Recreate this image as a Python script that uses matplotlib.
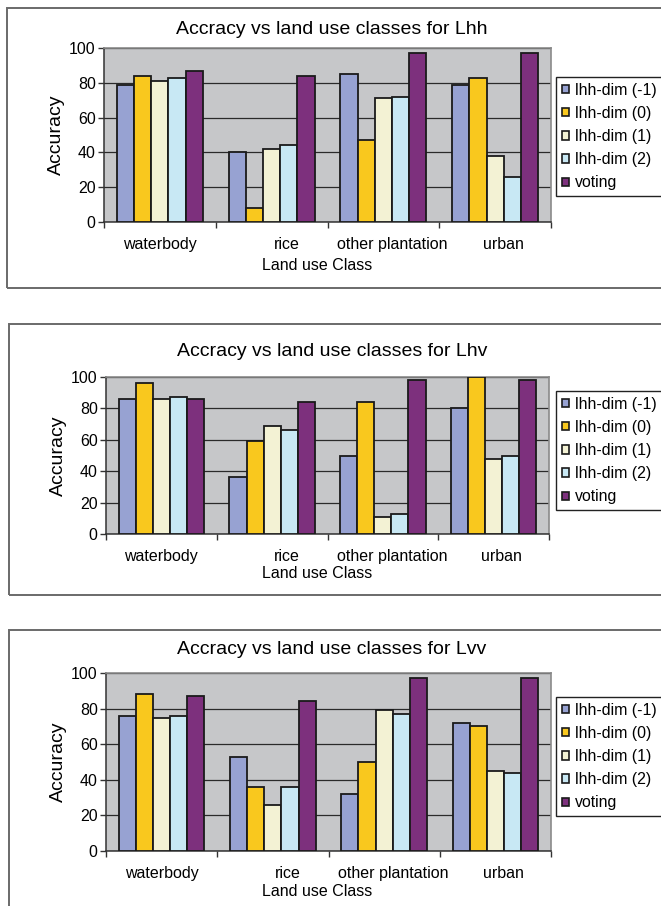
import numpy as np
import matplotlib
matplotlib.use("Agg")
import matplotlib.pyplot as plt
from matplotlib.patches import Rectangle
from matplotlib.transforms import ScaledTranslation

plt.rcParams['font.family'] = ['Liberation Sans', 'DejaVu Sans']

classes = ['waterbody', 'rice', 'other plantation', 'urban']
series = ['lhh-dim (-1)', 'lhh-dim (0)', 'lhh-dim (1)', 'lhh-dim (2)', 'voting']
colors = ['#97A2D2', '#F9C81E', '#F3F2D4', '#C8E8F4', '#7D307D']

# accuracy per class, one row per series
lhh = [[79, 40, 85, 79],
       [84, 8, 47, 83],
       [81, 42, 71, 38],
       [83, 44, 72, 26],
       [87, 84, 97, 97]]
lhv = [[86, 36, 50, 80],
       [96, 59, 84, 100],
       [86, 69, 11, 48],
       [87, 66, 13, 50],
       [86, 84, 98, 98]]
lvv = [[76, 53, 32, 72],
       [88, 36, 50, 70],
       [75, 26, 79, 45],
       [76, 36, 77, 44],
       [87, 84, 97, 97]]

titles = ['Accracy vs land use classes for Lhh',
          'Accracy vs land use classes for Lhv',
          'Accracy vs land use classes for Lvv']

W, H = 661, 906
fig = plt.figure(figsize=(W / 100, H / 100), dpi=100)


def fx(px):
    return px / W


def fy(py):
    return 1 - py / H


# pixel layout of each panel: frame box, plot area, text rows
panels = [
    dict(box=(7, 8, 700, 288), ax=(104, 48, 551, 222), title_y=30,
         xlab_y=265, leg_y=77, data=lhh),
    dict(box=(9, 324, 700, 595), ax=(106, 377, 549, 534), title_y=352,
         xlab_y=574, leg_y=391, data=lhv),
    dict(box=(9, 630, 700, 960), ax=(106, 673, 551, 851), title_y=650,
         xlab_y=891, leg_y=697, data=lvv),
]

label_shift = [0, 15, 9, 8]  # px, horizontal nudge of category labels
bw = 0.154
x = np.arange(len(classes))

for n, p in enumerate(panels):
    bx0, by0, bx1, by1 = p['box']
    fig.patches.append(Rectangle((fx(bx0), fy(by1)), fx(bx1 - bx0), (by1 - by0) / H,
                                 transform=fig.transFigure, fill=False,
                                 edgecolor='#6a6a6a', linewidth=1.4))
    l, t, r, b = p['ax']
    ax = fig.add_axes([fx(l), fy(b), fx(r - l), (b - t) / H])
    ax.set_facecolor('#C6C7C9')

    for i, vals in enumerate(p['data']):
        ax.bar(x + (i - 2) * bw, vals, width=bw, color=colors[i],
               edgecolor='#1a1a1a', linewidth=1.3, label=series[i], zorder=3)

    ax.set_xlim(-0.5, 3.5)
    ax.set_ylim(0, 100)
    ax.set_yticks(np.arange(0, 101, 20))
    ax.yaxis.grid(True, color='#2a2a2a', linewidth=0.9, zorder=1)
    ax.set_axisbelow(True)
    ax.tick_params(axis='y', direction='out', length=4, width=1, pad=2,
                   labelsize=11.5, color='#333333')

    ax.set_xticks(x)
    ax.set_xticklabels(classes)
    ax.set_xticks(np.arange(-0.5, 4.0, 1.0), minor=True)
    ax.tick_params(axis='x', which='major', length=0, pad=11, labelsize=11.5)
    ax.tick_params(axis='x', which='minor', direction='out', length=4,
                   width=1, color='#333333')
    for lab, dx in zip(ax.get_xticklabels(), label_shift):
        lab.set_transform(lab.get_transform() +
                          ScaledTranslation(dx / 100, 0, fig.dpi_scale_trans))

    for side in ['top', 'right']:
        ax.spines[side].set_color('#8a8a8a')
        ax.spines[side].set_linewidth(1.2)
    for side in ['left', 'bottom']:
        ax.spines[side].set_color('#333333')
        ax.spines[side].set_linewidth(1.1)

    fig.text(fx(332), fy(p['title_y']), titles[n],
             ha='center', va='center', fontsize=14)
    fig.text(fx(317), fy(p['xlab_y']), 'Land use Class',
             ha='center', va='center', fontsize=11.5)
    fig.text(fx(l - 48), fy((t + b) / 2), 'Accuracy', rotation=90,
             ha='center', va='center', fontsize=14)

    leg = ax.legend(loc='upper left',
                    bbox_to_anchor=(fx(556), fy(p['leg_y'])),
                    bbox_transform=fig.transFigure,
                    fontsize=11.4, frameon=True, fancybox=False,
                    edgecolor='#222222', framealpha=1, borderpad=0.35,
                    labelspacing=0.52, handlelength=0.45, handleheight=0.45,
                    handletextpad=0.4, borderaxespad=0)
    leg.get_frame().set_linewidth(1.0)
    for h in leg.legend_handles:
        h.set_linewidth(1.2)

fig.savefig('out.png', dpi=100)
